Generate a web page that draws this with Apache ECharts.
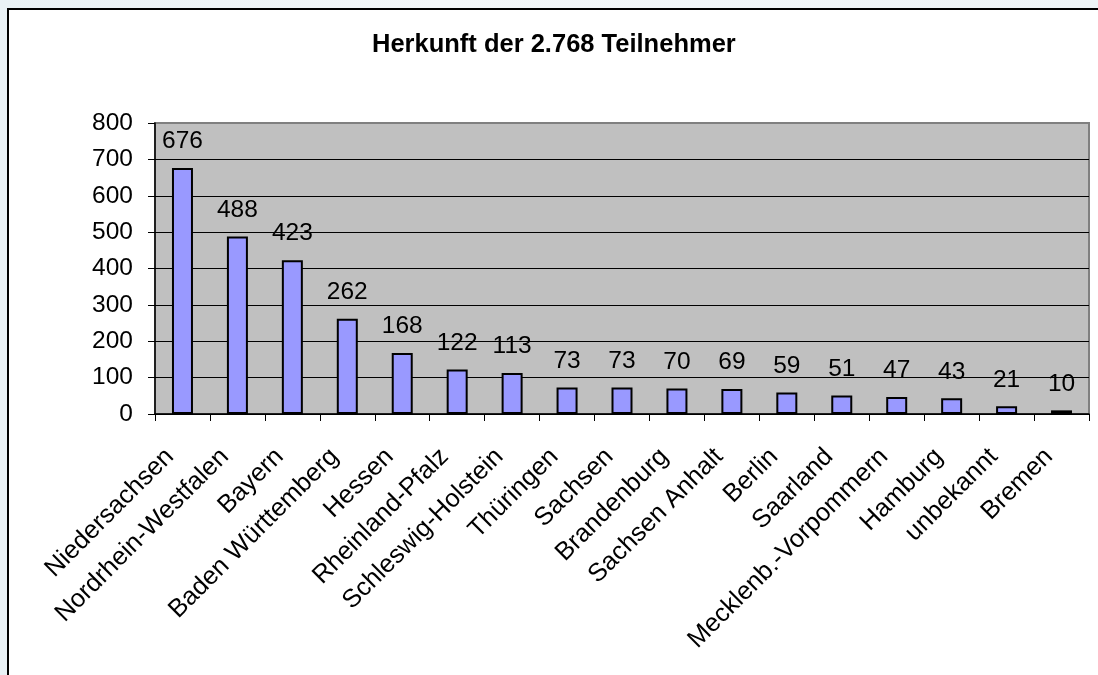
<!DOCTYPE html>
<html>
<head>
<meta charset="utf-8">
<script src="https://cdn.jsdelivr.net/npm/echarts@6/dist/echarts.min.js"></script>
<style>
  html, body { margin: 0; padding: 0; width: 1098px; height: 675px; overflow: hidden;
    background: linear-gradient(90deg, #e9f1f5 0%, #f3f7f9 40%, #eef4f7 100%); }
  #frame { position: absolute; left: 7px; top: 8px; width: 1100px; height: 700px;
    background: #fff; border: 2px solid #000; }
  #chart { position: absolute; left: 0; top: 0; width: 1098px; height: 675px; }
</style>
</head>
<body>
<div id="frame"></div>
<div id="chart"></div>
<script>
// Herkunft nach Bundesland
const categories = ['Niedersachsen', 'Nordrhein-Westfalen', 'Bayern', 'Baden Württemberg', 'Hessen',
  'Rheinland-Pfalz', 'Schleswig-Holstein', 'Thüringen', 'Sachsen', 'Brandenburg', 'Sachsen Anhalt',
  'Berlin', 'Saarland', 'Mecklenb.-Vorpommern', 'Hamburg', 'unbekannt', 'Bremen']
const teilnehmer = [676, 488, 423, 262, 168, 122, 113, 73, 73, 70, 69, 59, 51, 47, 43, 21, 10]
const yTicks = [0, 100, 200, 300, 400, 500, 600, 700, 800]

const font = '"Liberation Sans", Arial, sans-serif'
const chart = echarts.init(document.getElementById('chart'))

// last grid line sits on the plot border, keep it grey like the frame
const gridColors = yTicks.map((v, i) => i === yTicks.length - 1 ? '#808080' : '#000')

chart.setOption({
  animation: false,
  title: {
    text: 'Herkunft der 2.768 Teilnehmer',
    left: 372,
    top: 32,
    padding: 0,
    textStyle: { fontFamily: font, fontSize: 25.5, fontWeight: 'bold', color: '#000' }
  },
  grid: {
    left: 155,
    top: 123,
    width: 934,
    height: 291,
    show: true,
    backgroundColor: '#c0c0c0',
    borderColor: '#808080',
    borderWidth: 2,
    containLabel: false
  },
  xAxis: {
    type: 'category',
    data: categories,
    axisLine: { lineStyle: { color: '#000', width: 1.5 } },
    axisTick: { show: true, length: 7, lineStyle: { color: '#000' } },
    axisLabel: {
      interval: 0,
      rotate: 45,
      margin: 26,
      padding: [0, 18, 0, 0],
      fontFamily: font,
      fontSize: 25.5,
      color: '#000'
    }
  },
  yAxis: {
    type: 'value',
    min: 0,
    max: 800,
    interval: 100,
    axisLine: { show: true, lineStyle: { color: '#000', width: 1.5 } },
    axisTick: { show: true, length: 7, lineStyle: { color: '#000' } },
    axisLabel: { margin: 22, fontFamily: font, fontSize: 24.5, color: '#000' },
    splitLine: { show: true, lineStyle: { color: gridColors, width: 1 } }
  },
  series: [{
    type: 'bar',
    data: teilnehmer,
    barWidth: 21,
    itemStyle: { color: '#9999ff', borderColor: '#000', borderWidth: 2 },
    label: {
      show: true,
      position: 'top',
      distance: 14,
      fontFamily: font,
      fontSize: 24.5,
      color: '#000'
    }
  }]
})
</script>
</body>
</html>
